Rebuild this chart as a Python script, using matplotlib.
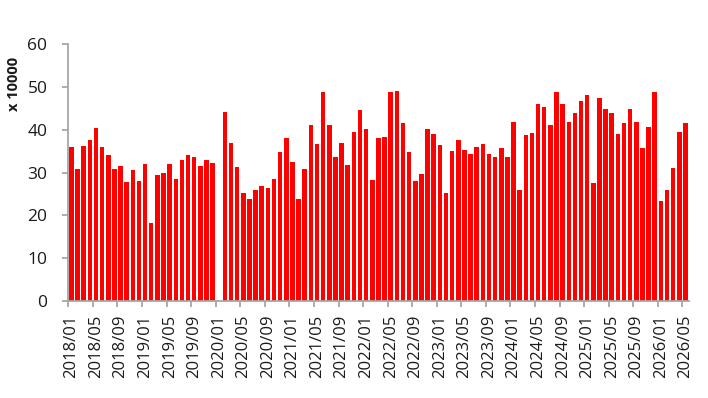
import matplotlib.pyplot as plt
import numpy as np

plt.rcParams["font.family"] = ["Open Sans", "DejaVu Sans"]

# monthly values, 2018/01 .. 2026/05 (x 10000); 2020/01 has no data
values = [
    36.0, 30.9, 36.3, 37.7, 40.5, 36.0, 34.1, 30.9, 31.6, 27.8, 30.6, 28.0,
    32.0, 18.2, 29.5, 29.9, 32.0, 28.5, 33.0, 34.1, 33.7, 31.6, 33.0, 32.3,
    0.0, 44.2, 37.0, 31.3, 25.2, 23.8, 25.9, 26.9, 26.4, 28.5, 34.8, 38.1,
    32.5, 23.8, 30.9, 41.2, 36.7, 48.9, 41.2, 33.7, 37.0, 31.8, 39.5, 44.5,
    40.2, 28.3, 38.1, 38.4, 48.7, 49.1, 41.6, 34.8, 28.0, 29.7, 40.2, 39.1,
    36.5, 25.2, 35.1, 37.7, 35.3, 34.4, 36.0, 36.7, 34.4, 33.7, 35.8, 33.7,
    41.9, 25.9, 38.8, 39.3, 45.9, 45.4, 41.2, 48.9, 45.9, 41.9, 44.0, 46.6,
    48.2, 27.6, 47.3, 44.9, 43.8, 39.1, 41.6, 44.9, 41.9, 35.8, 40.7, 48.7,
    23.4, 25.9, 31.1, 39.5, 41.6,
]
months = [f"{2018 + i // 12}/{i % 12 + 1:02d}" for i in range(len(values))]
y_ticks = [0, 10, 20, 30, 40, 50, 60]

fig = plt.figure(figsize=(7.08, 3.98), dpi=100)
ax = fig.add_axes([0.0965, 0.2437, 0.876, 0.6457])

x = np.arange(len(values))
ax.bar(x, values, width=0.74, color="#ff0000", zorder=2)

# axes
ax.set_xlim(-0.5, len(values) - 0.5)
ax.set_ylim(0, 60)
ax.set_yticks(y_ticks)
ax.set_yticklabels([str(v) for v in y_ticks], fontsize=12.5, color="#1a1a1a")

# labels every 4 months at bar centres, ticks on category boundaries
ax.set_xticks(x[::4])
ax.set_xticklabels(months[::4], rotation=90, fontsize=12, color="#1a1a1a")
ax.set_xticks(np.arange(-0.5, len(values), 4), minor=True)
ax.tick_params(axis="x", which="major", length=0, pad=10)
ax.tick_params(axis="x", which="minor", length=4, width=1.3, color="#a6a6a6")
ax.tick_params(axis="y", length=4, width=1.3, color="#a6a6a6", pad=11)

for side in ["top", "right"]:
    ax.spines[side].set_visible(False)
for side in ["left", "bottom"]:
    ax.spines[side].set_color("#a6a6a6")
    ax.spines[side].set_linewidth(1.3)

fig.text(0.02, 0.79, "x 10000", rotation=90, fontsize=10.5, fontweight="bold",
         ha="center", va="center", color="#1a1a1a")

fig.savefig("out.png", dpi=100)
